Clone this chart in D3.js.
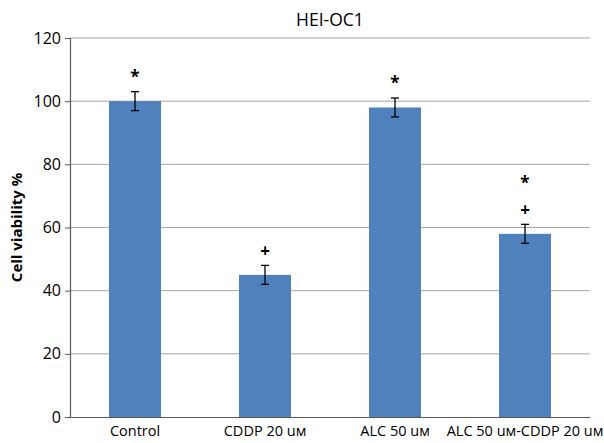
<!DOCTYPE html>
<html>
<head>
<meta charset="utf-8">
<script src="https://cdn.jsdelivr.net/npm/d3@7"></script>
<style>
  body { margin: 0; background: #fff; }
  text { font-family: "Open Sans", sans-serif; fill: #000; }
</style>
</head>
<body>
<div id="chart"></div>
<script>
const categories = ["Control", "CDDP 20 uм", "ALC 50 uм", "ALC 50 uм-CDDP 20 uм"];
const viability = [100, 45, 98, 58];
const errors = [3, 3, 3, 3];
const markers = [["*"], ["+"], ["*"], ["+", "*"]];
const yTicks = [0, 20, 40, 60, 80, 100, 120];

const W = 604, H = 443;
const plotLeft = 70, plotRight = 590, plotTop = 38, plotBottom = 417;

const svg = d3.select("#chart").append("svg")
    .attr("width", W)
    .attr("height", H);

const x = d3.scaleBand()
    .domain(categories)
    .range([plotLeft, plotRight])
    .paddingInner(0.6)
    .paddingOuter(0.3);

const y = d3.scaleLinear()
    .domain([0, 120])
    .range([plotBottom, plotTop]);

// gridlines
svg.append("g")
    .selectAll("line")
    .data(yTicks.filter(d => d > 0))
    .enter()
    .append("line")
    .attr("x1", plotLeft)
    .attr("x2", plotRight)
    .attr("y1", d => y(d))
    .attr("y2", d => y(d))
    .attr("stroke", "#a6a6a6")
    .attr("stroke-width", 1);

// y axis
const yAxis = svg.append("g")
    .attr("transform", `translate(${plotLeft}, 0)`)
    .call(d3.axisLeft(y).tickValues(yTicks).tickSize(5).tickPadding(4));
yAxis.select(".domain").attr("stroke", "#595959").attr("stroke-width", 1.2);
yAxis.selectAll(".tick line").attr("stroke", "#595959");
yAxis.selectAll(".tick text")
    .style("font-size", "16px")
    .attr("fill", "#000");

// bars
svg.append("g")
    .selectAll("rect")
    .data(viability)
    .enter()
    .append("rect")
    .attr("x", (d, i) => x(categories[i]))
    .attr("y", d => y(d))
    .attr("width", x.bandwidth())
    .attr("height", d => plotBottom - y(d))
    .attr("fill", "#4f81bd");

// x axis
const xAxis = svg.append("g")
    .attr("transform", `translate(0, ${plotBottom})`)
    .call(d3.axisBottom(x).tickSize(0).tickPadding(9));
xAxis.select(".domain").attr("stroke", "#595959").attr("stroke-width", 1.2);
xAxis.selectAll(".tick text")
    .style("font-size", "14.5px")
    .attr("fill", "#000");

// error bars
const eb = svg.append("g")
    .attr("stroke", "#000")
    .attr("stroke-width", 1.3);
viability.forEach((v, i) => {
    const cx = x(categories[i]) + x.bandwidth() / 2;
    eb.append("line")
        .attr("x1", cx).attr("x2", cx)
        .attr("y1", y(v + errors[i])).attr("y2", y(v - errors[i]));
    [v + errors[i], v - errors[i]].forEach(e => {
        eb.append("line")
            .attr("x1", cx - 4).attr("x2", cx + 4)
            .attr("y1", y(e)).attr("y2", y(e));
    });
});

// significance markers
viability.forEach((v, i) => {
    const cx = x(categories[i]) + x.bandwidth() / 2;
    const base = y(v + errors[i]);
    markers[i].forEach((m, j) => {
        svg.append("text")
            .attr("x", cx)
            .attr("y", m === "*" ? base - 9 - j * 26 : base - 8 - j * 26)
            .attr("text-anchor", "middle")
            .style("font-size", "17px")
            .style("font-weight", "bold")
            .text(m);
    });
});

// title
svg.append("text")
    .attr("x", (plotLeft + plotRight) / 2)
    .attr("y", 26)
    .attr("text-anchor", "middle")
    .style("font-size", "17.5px")
    .text("HEI-OC1");

// y label
svg.append("text")
    .attr("transform", `translate(22, ${(plotTop + plotBottom) / 2}) rotate(-90)`)
    .attr("text-anchor", "middle")
    .style("font-size", "15px")
    .style("font-weight", "bold")
    .text("Cell viability %");
</script>
</body>
</html>
